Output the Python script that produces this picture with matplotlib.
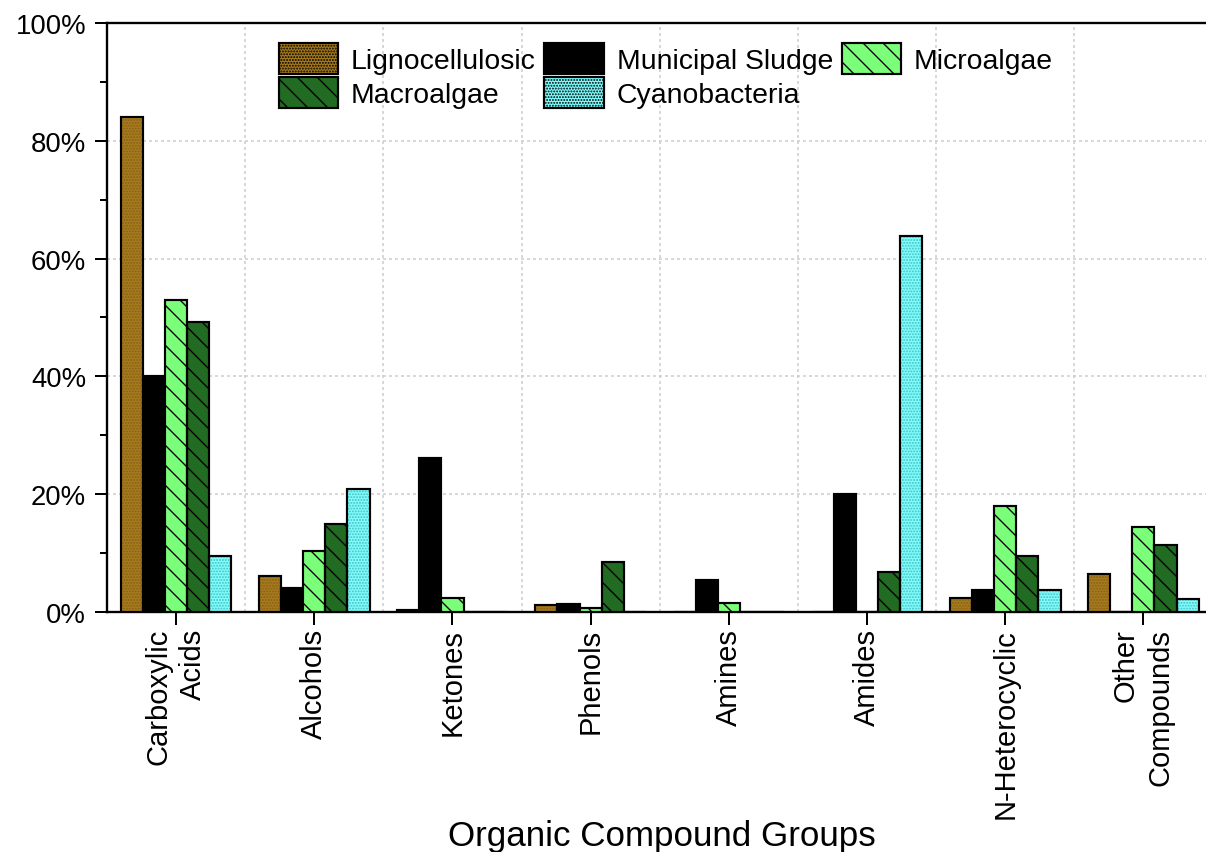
import matplotlib
matplotlib.use('Agg')
import matplotlib.pyplot as plt
import matplotlib.patches as mpatches
import numpy as np

plt.rcParams['font.family'] = ['Liberation Sans', 'DejaVu Sans']
plt.rcParams['hatch.linewidth'] = 0.8

groups = ['Carboxylic\nAcids', 'Alcohols', 'Ketones', 'Phenols', 'Amines',
          'Amides', 'N-Heterocyclic', 'Other\nCompounds']
lignocellulosic = [84.0, 6.1, 0.3, 1.1, 0.0, 0.0, 2.4, 6.4]
municipal_sludge = [40.0, 4.0, 26.1, 1.4, 5.5, 20.0, 3.7, 0.0]
microalgae = [52.9, 10.3, 2.4, 0.7, 1.6, 0.0, 18.0, 14.5]
macroalgae = [49.2, 15.0, 0.0, 8.5, 0.0, 6.8, 9.5, 11.4]
cyanobacteria = [9.5, 20.8, 0.0, 0.0, 0.0, 63.9, 3.7, 2.2]

series = [
    ('Lignocellulosic', lignocellulosic, '#A87B1C', '#85601a', '.......'),
    ('Municipal Sludge', municipal_sludge, '#000000', None, None),
    ('Microalgae', microalgae, '#7BFF7B', '#000000', '\\\\'),
    ('Macroalgae', macroalgae, '#226B22', '#000000', '\\\\'),
    ('Cyanobacteria', cyanobacteria, '#7FFFFF', '#4cbcbc', '.......'),
]

fig = plt.figure(figsize=(10.05, 7.108), dpi=120)
ax = fig.add_axes([0.0887, 0.2814, 0.9167, 0.6905])

x = np.arange(len(groups))
w = 0.16
for i, (name, vals, fc, hc, hatch) in enumerate(series):
    pos = x + (i - 2) * w
    if hatch:
        # hatch drawn in its own colour, black outline on top
        ax.bar(pos, vals, w, color=fc, edgecolor=hc, hatch=hatch,
               linewidth=0, zorder=3)
        ax.bar(pos, vals, w, fill=False, edgecolor='black', linewidth=1.3,
               zorder=4)
    else:
        ax.bar(pos, vals, w, color=fc, edgecolor='black', linewidth=1.3,
               zorder=3)

ax.set_xlim(-0.5, 7.5)
ax.set_ylim(0, 100)
ax.set_xticks(x)
ax.set_xticklabels(groups, rotation=90, ha='center', va='top',
                   multialignment='right', fontsize=17.5, linespacing=1.3)
ax.set_xticks(x[:-1] + 0.5, minor=True)
ax.set_yticks(np.arange(0, 101, 20))
ax.set_yticks(np.arange(10, 100, 20), minor=True)
ax.set_yticklabels([f'{v}%' for v in range(0, 101, 20)], fontsize=16.5)

ax.tick_params(axis='both', which='major', direction='out', length=7.5,
               width=1.2, pad=5)
ax.tick_params(axis='x', which='major', pad=2)
ax.tick_params(axis='y', which='minor', direction='out', length=4, width=1.2)
ax.tick_params(axis='x', which='minor', length=0)
ax.xaxis.grid(True, which='minor', color='#cccccc', linestyle=(0, (2, 2)),
              linewidth=0.9, zorder=0)
ax.yaxis.grid(True, which='major', color='#cccccc', linestyle=(0, (2, 2)),
              linewidth=0.9, zorder=0)
ax.set_axisbelow(True)
for s in ax.spines.values():
    s.set_linewidth(1.4)
ax.spines['right'].set_visible(False)

ax.set_xlabel('Organic Compound Groups', fontsize=21)
ax.xaxis.set_label_coords(0.5016, -0.352)

# legend rows: Lignocellulosic / Municipal Sludge / Microalgae, then the rest
order = ['Lignocellulosic', 'Macroalgae', 'Municipal Sludge', 'Cyanobacteria',
         'Microalgae']
leg_handles = []
for name in order:
    _, _, fc, hc, hatch = [s for s in series if s[0] == name][0]
    leg_handles.append(mpatches.Patch(facecolor=fc, edgecolor='black',
                                      hatch=hatch, linewidth=1.3))
ax.legend(leg_handles, order, ncol=3, loc='upper center',
          bbox_to_anchor=(0.5056, 1.0), frameon=False, fontsize=17,
          handlelength=2.1, handleheight=1.3, labelspacing=0.12,
          columnspacing=0.3, handletextpad=0.45, borderpad=0,
          borderaxespad=0.7)

fig.savefig('out.png', dpi=120)
